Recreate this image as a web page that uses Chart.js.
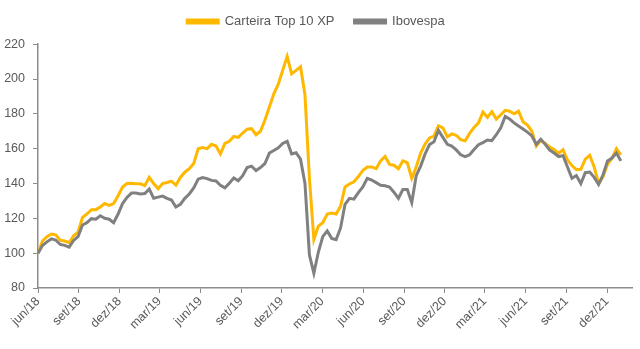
<!DOCTYPE html>
<html>
<head>
<meta charset="utf-8">
<script src="https://cdn.jsdelivr.net/npm/chart.js@4.4.0/dist/chart.umd.min.js"></script>
<style>
  html, body { margin: 0; padding: 0; background: #fff; }
</style>
</head>
<body>
<canvas id="chart" width="640" height="349"></canvas>
<script>
// DATA (one sample every 10 days from 01/06/2018)
const startDate = Date.UTC(2018, 5, 1);
const stepDays = 10;

const tickLabels = ["jun/18", "set/18", "dez/18", "mar/19", "jun/19", "set/19", "dez/19",
  "mar/20", "jun/20", "set/20", "dez/20", "mar/21", "jun/21", "set/21", "dez/21"];

const carteira = [
  100, 107, 109.5, 111, 110.5, 107.5, 107, 106, 110, 112,
  120.5, 122.5, 125, 125, 126.5, 128.5, 127.5, 128.5, 133, 138,
  140, 140.2, 139.8, 139.8, 138.8, 143.5, 140, 137, 140, 140.6,
  141.3, 139, 143.5, 146.5, 148.5, 151.5, 160, 160.6, 160, 162.5,
  161.5, 157, 163, 164.2, 167, 166.5, 169, 171.2, 171.5, 168,
  170, 176.5, 184, 191.5, 197, 205, 213, 203, 205, 207,
  191, 143, 108, 115.5, 117.5, 122.5, 123, 122.5, 127, 138,
  139.7, 141, 144, 147.5, 149.5, 149.5, 148.5, 153, 155.5, 151,
  150.5, 148.5, 153, 152, 143, 149.5, 157.5, 162.7, 166.2, 167.2,
  173.2, 172, 166.8, 168.5, 167.7, 165.2, 164.5, 168.8, 172.2, 174.8,
  181, 178, 181.3, 177, 179.5, 182, 181.5, 180, 181.5, 175.5,
  173.5, 170, 161.5, 164.8, 163, 161, 159.5, 157.3, 159.4, 153.5,
  150.3, 148, 148.2, 154, 156.2, 149.5, 140, 144, 151, 154.5,
  160, 156.5
];

const ibovespa = [
  100, 104.4, 106.5, 108.2, 107.5, 105, 104.5, 103.5, 107.3, 109.5,
  116.2, 117.5, 119.8, 119.5, 121.5, 120, 119.5, 117.5, 122.5, 128.5,
  132, 134.5, 134.5, 134, 134.2, 136.8, 131.5, 132.2, 132.8, 131.5,
  130.5, 126.5, 128, 131.5, 134, 137.5, 142.5, 143.4, 142.8, 141.8,
  141.5, 139, 137.5, 140.2, 143.2, 141.6, 144.5, 149.2, 150, 147.5,
  149.2, 151.5, 157.5, 159, 160.5, 163, 164.2, 157, 157.7, 154,
  140, 99, 88.5, 100.5, 109.5, 112.8, 108.5, 107.8, 114.5, 128,
  131.5, 131, 134.8, 138, 143, 142, 140.5, 139, 138.7, 138,
  135, 131.5, 136.5, 136.5, 129, 144.5, 150, 157, 162.4, 164,
  170.5, 166.5, 162.5, 161.5, 159.3, 156.5, 155.5, 156.5, 159.5, 162.3,
  163.5, 165, 164.6, 168, 172, 178.5, 177, 174.8, 173, 171.3,
  169.5, 167.3, 162.5, 165.4, 162.5, 159.2, 157.5, 155.5, 156, 149.5,
  143, 144.6, 140, 146.2, 146.6, 143.5, 139.5, 145, 153, 154.6,
  157.5, 153
];

// day offsets for samples and quarter ticks
const DAY = 86400000;
const days = carteira.map((_, i) => i * stepDays);
const tickDays = tickLabels.map((_, k) => Math.round((Date.UTC(2018, 5 + 3 * k, 1) - startDate) / DAY));
const toPoints = (arr) => arr.map((v, i) => ({ x: days[i], y: v }));

const axisColor = "#8c8c8c";
const textColor = "#595959";
Chart.defaults.font.family = "'Liberation Sans', Arial, sans-serif";
Chart.defaults.font.size = 12.5;
Chart.defaults.color = textColor;

new Chart(document.getElementById("chart"), {
  type: "line",
  data: {
    datasets: [
      {
        label: "Carteira Top 10 XP",
        data: toPoints(carteira),
        borderColor: "#ffb800",
        backgroundColor: "#ffb800",
        borderWidth: 3,
        pointRadius: 0,
        tension: 0,
        order: 1,
      },
      {
        label: "Ibovespa",
        data: toPoints(ibovespa),
        borderColor: "#808080",
        backgroundColor: "#808080",
        borderWidth: 3,
        pointRadius: 0,
        tension: 0,
        order: 0,
      },
    ],
  },
  options: {
    responsive: false,
    animation: false,
    layout: { padding: { left: 0, right: 8, top: -5, bottom: 0 } },
    plugins: {
      tooltip: { enabled: false },
      legend: {
        position: "top",
        labels: {
          boxWidth: 31,
          boxHeight: 3,
          padding: 20,
          font: { size: 13 },
          sort: (a, b) => a.datasetIndex - b.datasetIndex,
        },
      },
      // empty spacer between legend and plot
      subtitle: {
        display: true,
        text: "",
        weight: 500,
        font: { size: 1 },
        padding: { top: 0, bottom: 5 },
      },
    },
    scales: {
      x: {
        type: "linear",
        min: 0,
        max: 1335,
        afterBuildTicks: (s) => { s.ticks = tickDays.map((v) => ({ value: v })); },
        afterFit: (s) => { s.height = 61; },
        ticks: {
          autoSkip: false,
          minRotation: 45,
          maxRotation: 45,
          padding: 1,
          callback: (v, i) => tickLabels[i],
        },
        grid: { drawOnChartArea: false, color: axisColor, tickLength: 5 },
        border: { color: axisColor, width: 1.5 },
      },
      y: {
        min: 80,
        max: 220,
        afterFit: (s) => { s.width = 38; },
        ticks: { stepSize: 20, padding: 8 },
        grid: { drawOnChartArea: false, color: axisColor, tickLength: 5 },
        border: { color: axisColor, width: 1.5 },
      },
    },
  },
});
</script>
</body>
</html>
